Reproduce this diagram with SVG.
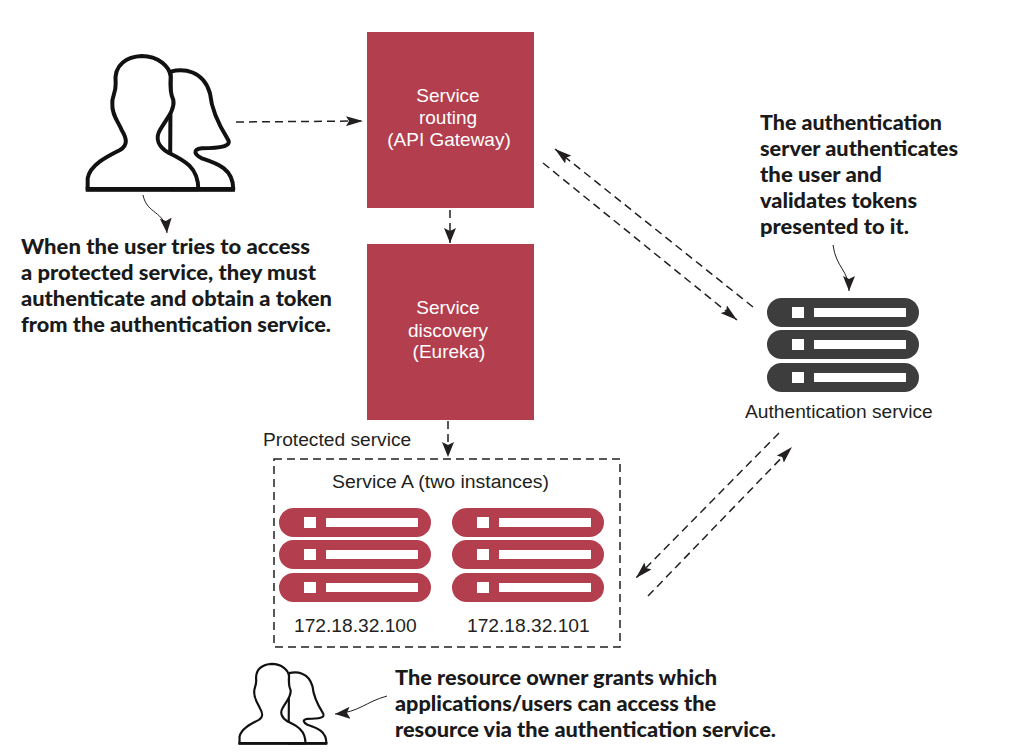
<svg xmlns="http://www.w3.org/2000/svg" width="1018" height="756" viewBox="0 0 1018 756">
<style>
text{font-family:"Liberation Sans",Arial,sans-serif;font-size:19.200px;fill:#231f20}
.w{fill:#fff;text-anchor:middle;font-size:19px}
.n{font-family:Lato,"Open Sans",sans-serif;font-size:21.500px;font-weight:900;fill:#1a1a1a}
.box{fill:#b23e4e}
.d{fill:none;stroke:#231f20;stroke-width:1.500;stroke-dasharray:8 5}
.c{fill:none;stroke:#231f20;stroke-width:1}
.p{fill:#fff;stroke:#111;stroke-linejoin:round}
.hole{fill:#fff}
</style>
<defs>
<marker id="a" viewBox="0 0 17 10" refX="17" refY="5" markerWidth="17" markerHeight="10" markerUnits="userSpaceOnUse" orient="auto"><path d="M0 0L17 5L0 10L3 5Z" fill="#231f20"/></marker>
<marker id="b" viewBox="0 0 15 12" refX="15" refY="6" markerWidth="15" markerHeight="12" markerUnits="userSpaceOnUse" orient="auto"><path d="M0 0L15 6L0 12L3 6Z" fill="#231f20"/></marker>
<g id="person">
<path d="M302 95C340 85 400 90 420 160C425 210 450 260 472 295C490 320 450 325 395 325C365 328 375 345 395 355C440 370 490 385 490 448H300Z"/>
<path d="M53 448V415C60 375 110 350 150 330C175 315 170 295 155 270C145 245 125 225 127 190C125 170 138 160 137 130C130 70 175 50 215 48C265 48 300 80 302 110C300 140 300 160 310 180C315 210 290 235 270 270C255 295 265 320 295 338C340 360 385 380 385 448Z"/>
<path d="M47 448H495" stroke-width="14"/>
</g>
<g id="rack">
<rect width="152" height="29" rx="14.500"/><rect y="32" width="152" height="29" rx="14.500"/><rect y="65" width="152" height="29" rx="14.500"/>
<g class="hole">
<rect x="25" y="9" width="12" height="11"/><rect x="47" y="10" width="92" height="9"/>
<rect x="25" y="41" width="12" height="11"/><rect x="47" y="42" width="92" height="9"/>
<rect x="25" y="74" width="12" height="11"/><rect x="47" y="75" width="92" height="9"/>
</g>
</g>
</defs>

<g id="connectors">
<path class="d" d="M236 122L363 121" marker-end="url(#a)"/>
<path class="d" d="M450 210V243" marker-end="url(#b)"/>
<path class="d" d="M448 421V457" marker-end="url(#b)"/>
<path class="d" d="M753 307L555 149" marker-end="url(#a)"/>
<path class="d" d="M543 163L737 320" marker-end="url(#a)"/>
<path class="d" d="M779 433L636 578" marker-end="url(#a)"/>
<path class="d" d="M648 596L792 447" marker-end="url(#a)"/>
<path class="c" d="M143 195C147 215 165 210 167 233" marker-end="url(#b)"/>
<path class="c" d="M833 245C836 268 849 270 849 291" marker-end="url(#b)"/>
<path class="c" d="M387 696C365 702 360 712 335 714" marker-end="url(#b)"/>
</g>

<g id="user">
<use href="#person" class="p" stroke-width="12" transform="translate(70 40) scale(.3333)"/>
</g>
<g id="gateway">
<rect class="box" x="367" y="32" width="167" height="176"/>
<text class="w" x="448" y="102">Service</text>
<text class="w" x="448" y="124">routing</text>
<text class="w" x="449" y="146">(API Gateway)</text>
</g>
<g id="discovery">
<rect class="box" x="367" y="244" width="167" height="176"/>
<text class="w" x="448" y="314">Service</text>
<text class="w" x="448" y="337">discovery</text>
<text class="w" x="449" y="358">(Eureka)</text>
</g>
<g id="protected">
<text x="263" y="446">Protected service</text>
<rect x="274" y="459" width="346" height="188" fill="none" stroke="#231f20" stroke-width="1.500" stroke-dasharray="8 5"/>
<text x="332" y="488" textLength="217" lengthAdjust="spacingAndGlyphs">Service A (two instances)</text>
<use href="#rack" class="box" x="279" y="508"/>
<use href="#rack" class="box" x="452" y="508"/>
<text x="294" y="632">172.18.32.100</text>
<text x="467" y="632">172.18.32.101</text>
</g>
<g id="auth">
<use href="#rack" fill="#3d3d3d" x="767" y="298"/>
<text x="745" y="418">Authentication service</text>
</g>
<g id="owner">
<use href="#person" class="p" stroke-width="11" transform="translate(229 654.300) scale(.1987)"/>
</g>
<g id="note-user">
<text class="n" x="21" y="254" textLength="289" lengthAdjust="spacingAndGlyphs">When the user tries to access</text>
<text class="n" x="21" y="280" textLength="295" lengthAdjust="spacingAndGlyphs">a protected service, they must</text>
<text class="n" x="21" y="306" textLength="311" lengthAdjust="spacingAndGlyphs">authenticate and obtain a token</text>
<text class="n" x="21" y="332" textLength="310" lengthAdjust="spacingAndGlyphs">from the authentication service.</text>
</g>
<g id="note-auth">
<text class="n" x="760" y="130" textLength="182" lengthAdjust="spacingAndGlyphs">The authentication</text>
<text class="n" x="760" y="156" textLength="198" lengthAdjust="spacingAndGlyphs">server authenticates</text>
<text class="n" x="760" y="182" textLength="122" lengthAdjust="spacingAndGlyphs">the user and</text>
<text class="n" x="760" y="208" textLength="157" lengthAdjust="spacingAndGlyphs">validates tokens</text>
<text class="n" x="760" y="234" textLength="149" lengthAdjust="spacingAndGlyphs">presented to it.</text>
</g>
<g id="note-owner">
<text class="n" x="395" y="685" textLength="322" lengthAdjust="spacingAndGlyphs">The resource owner grants which</text>
<text class="n" x="395" y="711" textLength="321" lengthAdjust="spacingAndGlyphs">applications/users can access the</text>
<text class="n" x="395" y="737" textLength="381" lengthAdjust="spacingAndGlyphs">resource via the authentication service.</text>
</g>
</svg>
